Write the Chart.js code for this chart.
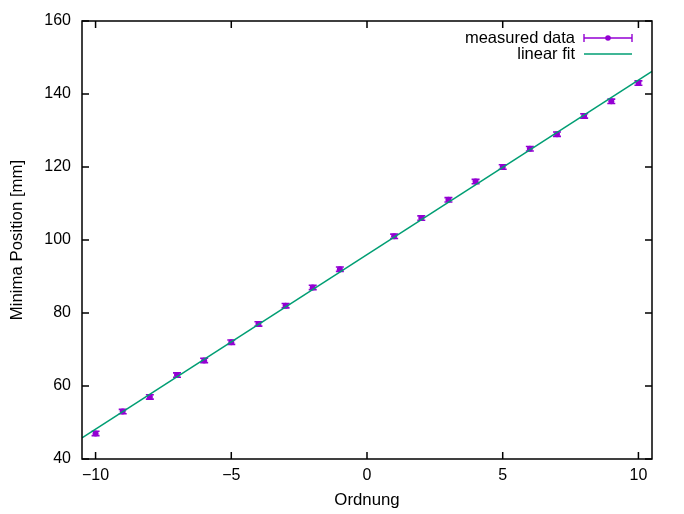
<!DOCTYPE html>
<html><head><meta charset="utf-8">
<script src="https://cdn.jsdelivr.net/npm/chart.js@4/dist/chart.umd.min.js"></script>
<style>html,body{margin:0;padding:0;background:#fff}#wrap{width:684px;height:514px;position:relative}</style>
</head><body><div id="wrap"><canvas id="c" width="684" height="514"></canvas></div>
<script>
const orders = [-10,-9,-8,-7,-6,-5,-4,-3,-2,-1,1,2,3,4,5,6,7,8,9,10];
const positions = [47,53,57,63,67,72,77,82,87,92,101,106,111,116,120,125,129,134,138,143];
const posErr = [0.6,0.6,0.6,0.6,0.6,0.6,0.6,0.6,0.6,0.6,0.6,0.6,0.6,0.6,0.6,0.6,0.6,0.6,0.6,0.6];
const fitX = [-10.5, 10.5];
const fitY = [45.8, 146.2];
const xTicks = [-10,-5,0,5,10];
const yTicks = [40,60,80,100,120,140,160];
const seriesNames = ['measured data','linear fit'];

const PURPLE = '#9400d3';
const GREEN = '#009e73';
const FONT = "'Liberation Sans', Arial, sans-serif";

const fmt = v => v < 0 ? '\u2212' + Math.abs(v) : String(v);

const errPlugin = {
  id: 'errbars',
  beforeDatasetsDraw(chart) {
    const ctx = chart.ctx, xs = chart.scales.x, ys = chart.scales.y;
    ctx.save();
    ctx.strokeStyle = PURPLE; ctx.lineWidth = 1.6;
    orders.forEach((o, i) => {
      const px = xs.getPixelForValue(o);
      const y1 = ys.getPixelForValue(positions[i] - posErr[i]);
      const y2 = ys.getPixelForValue(positions[i] + posErr[i]);
      ctx.beginPath();
      ctx.moveTo(px, y1); ctx.lineTo(px, y2);
      ctx.moveTo(px - 4, y1); ctx.lineTo(px + 4, y1);
      ctx.moveTo(px - 4, y2); ctx.lineTo(px + 4, y2);
      ctx.stroke();
    });
    ctx.restore();
  }
};

const framePlugin = {
  id: 'frame',
  afterDraw(chart) {
    const ctx = chart.ctx, a = chart.chartArea, xs = chart.scales.x, ys = chart.scales.y;
    ctx.save();
    ctx.strokeStyle = '#000'; ctx.lineWidth = 1.5;
    ctx.strokeRect(a.left, a.top, a.right - a.left, a.bottom - a.top);
    ctx.beginPath();
    const T = 7;
    xTicks.forEach(v => {
      const p = xs.getPixelForValue(v);
      ctx.moveTo(p, a.bottom); ctx.lineTo(p, a.bottom - T);
      ctx.moveTo(p, a.top); ctx.lineTo(p, a.top + T);
    });
    yTicks.forEach(v => {
      const p = ys.getPixelForValue(v);
      ctx.moveTo(a.left, p); ctx.lineTo(a.left + T, p);
      ctx.moveTo(a.right, p); ctx.lineTo(a.right - T, p);
    });
    ctx.stroke();
    // key
    ctx.font = '16.5px ' + FONT;
    ctx.fillStyle = '#000';
    ctx.textAlign = 'right';
    ctx.textBaseline = 'middle';
    const tx = 575, r1 = 38, r2 = 54, s1 = 584, s2 = 632;
    ctx.fillText(seriesNames[0], tx, r1);
    ctx.fillText(seriesNames[1], tx, r2);
    ctx.strokeStyle = PURPLE; ctx.lineWidth = 1.4;
    ctx.beginPath();
    ctx.moveTo(s1, r1); ctx.lineTo(s2, r1);
    ctx.moveTo(s1, r1 - 4); ctx.lineTo(s1, r1 + 4);
    ctx.moveTo(s2, r1 - 4); ctx.lineTo(s2, r1 + 4);
    ctx.stroke();
    ctx.fillStyle = PURPLE;
    ctx.beginPath(); ctx.arc((s1 + s2) / 2, r1, 2.8, 0, Math.PI * 2); ctx.fill();
    ctx.strokeStyle = GREEN; ctx.lineWidth = 1.6;
    ctx.beginPath(); ctx.moveTo(s1, r2); ctx.lineTo(s2, r2); ctx.stroke();
    ctx.restore();
  }
};

new Chart(document.getElementById('c'), {
  type: 'scatter',
  data: {
    datasets: [
      {
        label: seriesNames[0],
        data: orders.map((o, i) => ({x: o, y: positions[i]})),
        backgroundColor: PURPLE, borderColor: PURPLE,
        pointRadius: 3, pointBorderWidth: 0, showLine: false, order: 1
      },
      {
        label: seriesNames[1],
        type: 'line',
        data: fitX.map((x, i) => ({x: x, y: fitY[i]})),
        borderColor: GREEN, borderWidth: 1.6, pointRadius: 0, fill: false, order: 0
      }
    ]
  },
  options: {
    responsive: false, animation: false,
    layout: {padding: {top: 21, right: 32, left: 0, bottom: 0}},
    plugins: {legend: {display: false}, tooltip: {enabled: false}},
    scales: {
      x: {
        type: 'linear', min: -10.5, max: 10.5,
        grid: {display: false}, border: {display: false},
        afterBuildTicks: s => { s.ticks = xTicks.map(v => ({value: v})); },
        afterFit: s => { s.height = 55; },
        ticks: {color: '#000', font: {family: FONT, size: 16}, padding: -1, maxRotation: 0, callback: fmt},
        title: {display: true, text: 'Ordnung', color: '#000', font: {family: FONT, size: 16.8}, padding: {top: 0, bottom: 4}}
      },
      y: {
        type: 'linear', min: 40, max: 160,
        grid: {display: false}, border: {display: false},
        afterBuildTicks: s => { s.ticks = yTicks.map(v => ({value: v})); },
        afterFit: s => { s.width = 82; },
        ticks: {color: '#000', font: {family: FONT, size: 16}, padding: 3, callback: fmt},
        title: {display: true, text: 'Minima Position [mm]', color: '#000', font: {family: FONT, size: 16.8}, padding: {top: 7, bottom: 0}}
      }
    }
  },
  plugins: [errPlugin, framePlugin]
});
</script>
</body></html>
